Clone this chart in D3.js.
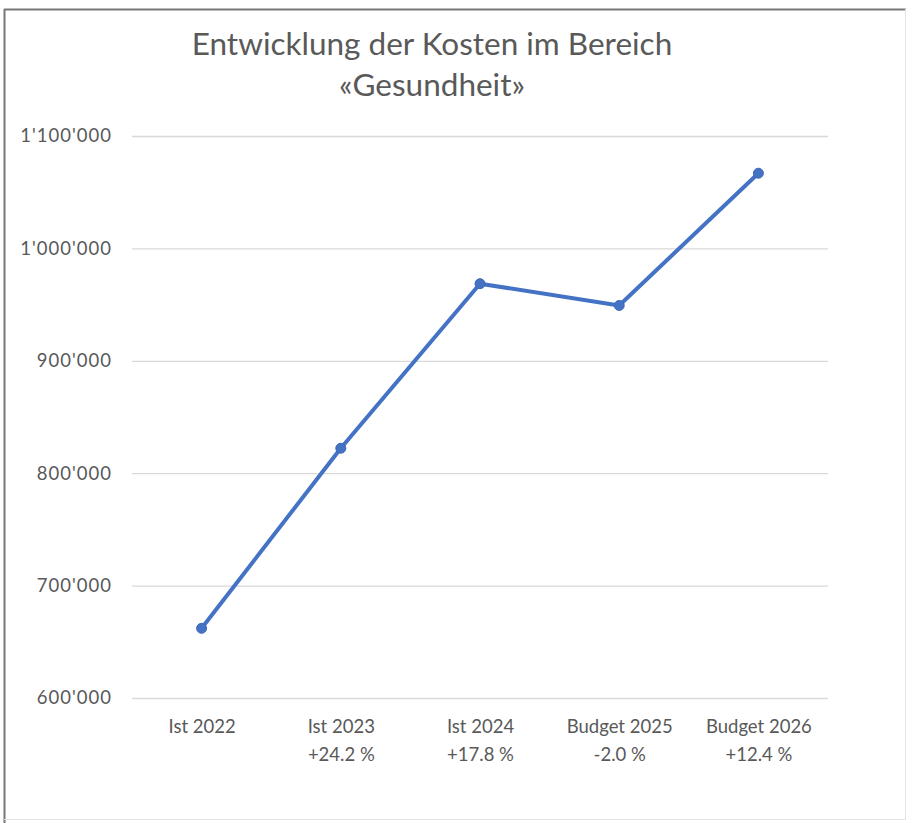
<!DOCTYPE html>
<html>
<head>
<meta charset="utf-8">
<script src="https://cdn.jsdelivr.net/npm/d3@7"></script>
<style>
  body { margin: 0; background: #fff; }
  text { font-family: Lato, "Open Sans", sans-serif; }
</style>
</head>
<body>
<div id="chart-area"></div>
<script>
// Kosten Gesundheit
const categories = ['Ist 2022', 'Ist 2023', 'Ist 2024', 'Budget 2025', 'Budget 2026'];
const changes = ['', '+24.2 %', '+17.8 %', '-2.0 %', '+12.4 %'];
const costs = [662000, 822200, 968600, 949200, 1066900];
const yTicks = [600000, 700000, 800000, 900000, 1000000, 1100000];
const titleLines = ['Entwicklung der Kosten im Bereich', '«Gesundheit»'];

const W = 912, H = 823;
const margin = { top: 136, right: 84, bottom: 125, left: 132 };
const width = W - margin.left - margin.right;
const height = H - margin.top - margin.bottom;

const svg = d3.select('#chart-area')
  .append('svg')
    .attr('width', W)
    .attr('height', H);

// frame
svg.append('line').attr('x1', 4).attr('x2', 906).attr('y1', 9.5).attr('y2', 9.5)
  .attr('stroke', '#777').attr('stroke-width', 2);
svg.append('line').attr('x1', 4.5).attr('x2', 4.5).attr('y1', 9).attr('y2', 823)
  .attr('stroke', '#777').attr('stroke-width', 2);
svg.append('line').attr('x1', 905.5).attr('x2', 905.5).attr('y1', 9).attr('y2', 820)
  .attr('stroke', '#e4e4e4').attr('stroke-width', 1);
svg.append('line').attr('x1', 4).attr('x2', 906).attr('y1', 819.5).attr('y2', 819.5)
  .attr('stroke', '#e4e4e4').attr('stroke-width', 1);

svg.append('g').selectAll('text')
  .data(titleLines)
  .enter().append('text')
    .attr('x', 432)
    .attr('y', (d, i) => 55 + i * 41)
    .attr('text-anchor', 'middle')
    .attr('font-size', 31.5)
    .attr('fill', '#595959')
    .text(d => d);

const g = svg.append('g')
  .attr('transform', 'translate(' + margin.left + ', ' + margin.top + ')');

const x = d3.scalePoint()
  .domain(categories)
  .range([0, width])
  .padding(0.5);

const y = d3.scaleLinear()
  .domain([600000, 1100000])
  .range([height, 0]);

const fmt = v => d3.format(',')(v).replace(/,/g, "'");

// gridlines + y labels
const yAxis = g.append('g')
  .call(d3.axisLeft(y).tickValues(yTicks).tickSize(-width).tickFormat(fmt));
yAxis.select('.domain').remove();
yAxis.selectAll('.tick line').attr('stroke', '#d9d9d9').attr('stroke-width', 1.3);
yAxis.selectAll('.tick text')
  .attr('x', -20)
  .attr('font-size', 18.5)
  .attr('letter-spacing', 1)
  .attr('fill', '#595959');

// x labels
const xAxis = g.append('g')
  .attr('transform', 'translate(0,' + height + ')')
  .call(d3.axisBottom(x).tickSize(0).tickFormat(''));
xAxis.select('.domain').remove();
xAxis.selectAll('.tick').each(function (d, i) {
  const t = d3.select(this).append('text')
    .attr('text-anchor', 'middle')
    .attr('font-size', 18.5)
    .attr('fill', '#595959');
  t.append('tspan').attr('x', 0).attr('y', 35).text(d);
  if (changes[i]) t.append('tspan').attr('x', 0).attr('y', 63).text(changes[i]);
});

const line = d3.line()
  .x((d, i) => x(categories[i]))
  .y(d => y(d));

g.append('path')
  .datum(costs)
  .attr('fill', 'none')
  .attr('stroke', '#4472C4')
  .attr('stroke-width', 4)
  .attr('stroke-linejoin', 'round')
  .attr('d', line);

g.selectAll('circle')
  .data(costs)
  .enter().append('circle')
    .attr('cx', (d, i) => x(categories[i]))
    .attr('cy', d => y(d))
    .attr('r', 5)
    .attr('fill', '#4472C4')
    .attr('stroke', '#3e68b5')
    .attr('stroke-width', 1);
</script>
</body>
</html>
